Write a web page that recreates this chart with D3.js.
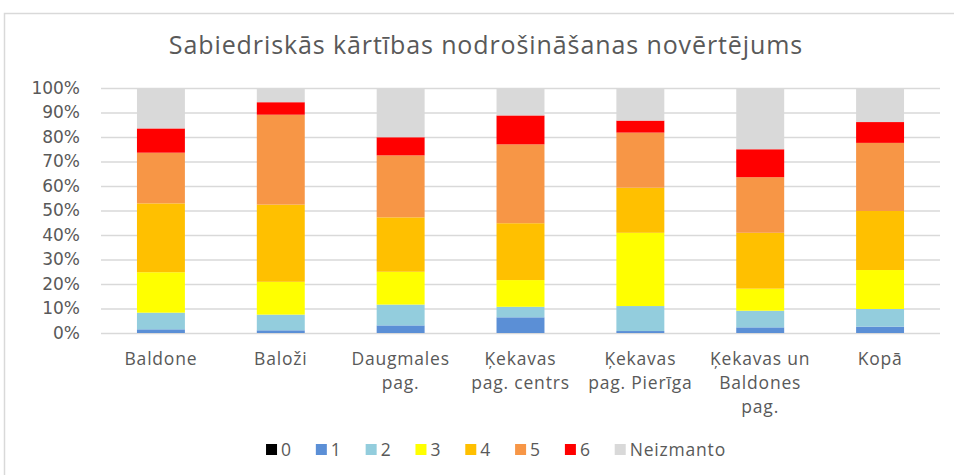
<!DOCTYPE html>
<html>
<head>
<meta charset="utf-8">
<script src="https://cdn.jsdelivr.net/npm/d3@7"></script>
<style>
  html, body { margin: 0; padding: 0; background: #fff; }
  svg { display: block; }
</style>
</head>
<body>
<svg id="chart" width="954" height="475"></svg>
<script>
// Survey areas (x axis) – line breaks mark how each label wraps
const categories = [
  "Baldone",
  "Baloži",
  "Daugmales\npag.",
  "Ķekavas\npag. centrs",
  "Ķekavas\npag. Pierīga",
  "Ķekavas un\nBaldones\npag.",
  "Kopā"
];

// Rating groups, in stacking order from the bottom
const seriesNames = ["0", "1", "2", "3", "4", "5", "6", "Neizmanto"];
const seriesColors = ["#000000", "#5B8FD6", "#93CDDD", "#FFFF00", "#FFC000", "#F79646", "#FF0000", "#D9D9D9"];

// Share of answers per rating, percent, one entry per area
const s0 = [0, 0, 0, 0, 0, 0, 0];
const s1 = [1.5, 1.1, 3.1, 6.4, 0.8, 2.3, 2.6];
const s2 = [6.8, 6.4, 8.5, 4.3, 10.2, 6.8, 7.2];
const s3 = [16.5, 13.4, 13.4, 10.9, 29.9, 9.0, 15.9];
const s4 = [28.1, 31.5, 22.2, 23.2, 18.4, 22.8, 24.1];
const s5 = [20.7, 36.7, 25.3, 32.2, 22.5, 22.7, 27.8];
const s6 = [9.9, 5.1, 7.4, 11.8, 4.9, 11.4, 8.5];
const sN = [16.5, 5.8, 20.1, 11.2, 13.3, 25.0, 13.9];

const yTicks = [0, 10, 20, 30, 40, 50, 60, 70, 80, 90, 100];
const title = "Sabiedriskās kārtības nodrošināšanas novērtējums";

const seriesValues = [s0, s1, s2, s3, s4, s5, s6, sN];

const rows = categories.map((c, i) => {
  const r = { cat: c };
  seriesNames.forEach((s, k) => { r[s] = seriesValues[k][i]; });
  return r;
});

const svg = d3.select("#chart");
const textColor = "#595959";
const labelFont = "Open Sans, sans-serif";

// outer frame of the chart area
svg.append("rect")
  .attr("x", 4.5).attr("y", 13.5)
  .attr("width", 960).attr("height", 480)
  .attr("fill", "#fff")
  .attr("stroke", "#D9D9D9")
  .attr("stroke-width", 1.5);

const plot = { left: 101, right: 940, top: 88, bottom: 333 };

const x = d3.scaleBand()
  .domain(categories)
  .range([plot.left, plot.right])
  .paddingInner(0.6)
  .paddingOuter(0.3);

const y = d3.scaleLinear()
  .domain([0, 100])
  .range([plot.bottom, plot.top]);

// title
svg.append("text")
  .attr("x", 486).attr("y", 54)
  .attr("text-anchor", "middle")
  .attr("font-family", labelFont)
  .attr("font-size", 25)
  .attr("letter-spacing", 0.9)
  .attr("fill", textColor)
  .text(title);

// horizontal gridlines and percent labels
const yAxis = d3.axisLeft(y)
  .tickValues(yTicks)
  .tickFormat(d => d + "%")
  .tickSize(-(plot.right - plot.left))
  .tickPadding(21);

const gy = svg.append("g")
  .attr("transform", `translate(${plot.left},0)`)
  .call(yAxis);
gy.select(".domain").remove();
gy.selectAll(".tick line")
  .attr("stroke", "#D9D9D9")
  .attr("stroke-width", 1.5);
gy.selectAll(".tick text")
  .attr("font-family", "DejaVu Sans, sans-serif")
  .attr("font-size", 17)
  .attr("fill", textColor);

// stacked bars
const stack = d3.stack().keys(seriesNames);
const layers = stack(rows);
const color = d3.scaleOrdinal().domain(seriesNames).range(seriesColors);

svg.append("g")
  .selectAll("g")
  .data(layers)
  .join("g")
  .attr("fill", d => color(d.key))
  .selectAll("rect")
  .data(d => d)
  .join("rect")
  .attr("x", d => x(d.data.cat))
  .attr("width", x.bandwidth())
  .attr("y", d => y(d[1]))
  .attr("height", d => y(d[0]) - y(d[1]));

// category labels, wrapped onto several lines
const catLabels = svg.append("g")
  .selectAll("text")
  .data(categories)
  .join("text")
  .attr("x", d => x(d) + x.bandwidth() / 2)
  .attr("y", 365)
  .attr("text-anchor", "middle")
  .attr("font-family", labelFont)
  .attr("font-size", 17.5)
  .attr("letter-spacing", 0.8)
  .attr("fill", textColor);
catLabels.each(function(d) {
  const t = d3.select(this);
  d.split("\n").forEach((line, i) => {
    t.append("tspan")
      .attr("x", x(d) + x.bandwidth() / 2)
      .attr("dy", i === 0 ? 0 : 24)
      .text(line);
  });
});

// legend
const legend = svg.append("g");
const items = [];
seriesNames.forEach((s) => {
  const g = legend.append("g");
  g.append("rect")
    .attr("x", 0).attr("y", -6)
    .attr("width", 11).attr("height", 11)
    .attr("fill", color(s));
  g.append("text")
    .attr("x", 15).attr("y", 6)
    .attr("font-family", labelFont)
    .attr("font-size", 17.5)
    .attr("letter-spacing", 0.8)
    .attr("fill", textColor)
    .text(s);
  items.push(g);
});
let lx = 0;
const gap = 24;
items.forEach(g => {
  g.attr("transform", `translate(${lx},0)`);
  lx += g.node().getBBox().width + gap;
});
const legendWidth = lx - gap;
legend.attr("transform", `translate(${496 - legendWidth / 2},450)`);
</script>
</body>
</html>
